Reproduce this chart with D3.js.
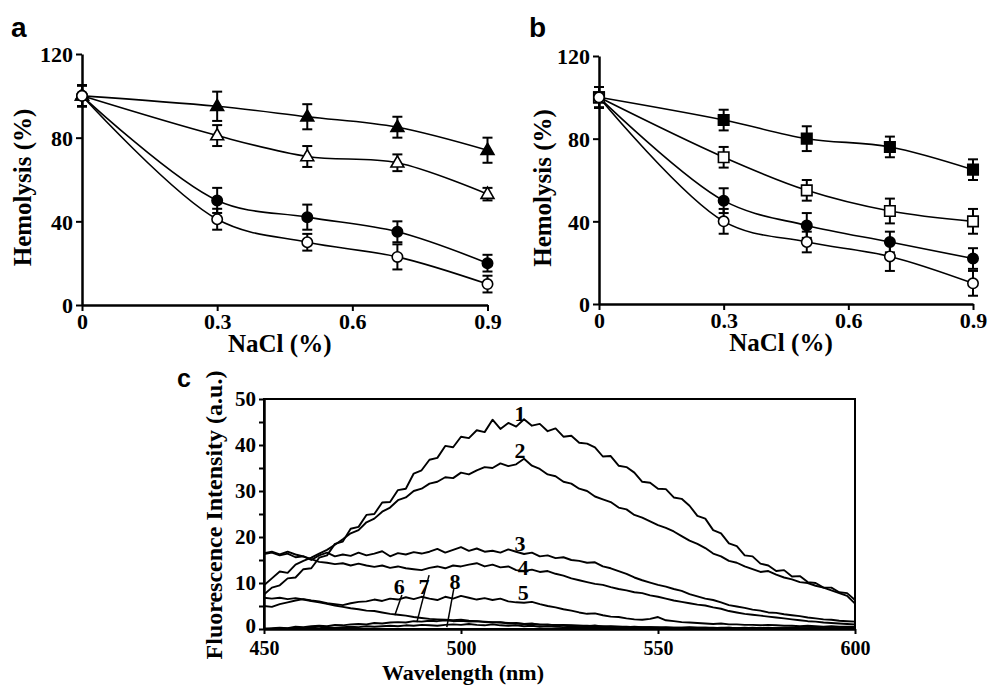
<!DOCTYPE html>
<html><head><meta charset="utf-8">
<script src="https://cdn.jsdelivr.net/npm/d3@7"></script>
<style>body{margin:0;background:#fff}svg{display:block}</style>
</head><body>
<script>
// ---------- Data: panels a & b ----------
const nacl = [0, 0.3, 0.5, 0.7, 0.9];
const xTicksAB = [0, 0.3, 0.6, 0.9];
const yTicksAB = [0, 40, 80, 120];

const aFilledTri = [100, 95, 90, 85, 74];
const aFilledTriErr = [5, 7, 6, 5, 6];
const aOpenTri = [100, 81, 71, 68, 53];
const aOpenTriErr = [5, 5, 5, 4, 3];
const aFilledCirc = [100, 50, 42, 35, 20];
const aFilledCircErr = [5, 6, 6, 5, 4];
const aOpenCirc = [100, 41, 30, 23, 10];
const aOpenCircErr = [5, 5, 4, 6, 4];

const bFilledSq = [100, 89, 80, 76, 65];
const bFilledSqErr = [5, 5, 6, 5, 5];
const bOpenSq = [100, 71, 55, 45, 40];
const bOpenSqErr = [5, 5, 5, 6, 6];
const bFilledCirc = [100, 50, 38, 30, 22];
const bFilledCircErr = [5, 6, 6, 5, 5];
const bOpenCirc = [100, 40, 30, 23, 10];
const bOpenCircErr = [5, 6, 5, 7, 6];

// ---------- Data: panel c ----------
const wavelengths = [450,452,454,456,458,460,462,464,466,468,470,472,474,476,478,480,482,484,486,488,490,492,494,496,498,500,502,504,506,508,510,512,514,516,518,520,522,524,526,528,530,532,534,536,538,540,542,544,546,548,550,552,554,556,558,560,562,564,566,568,570,572,574,576,578,580,582,584,586,588,590,592,594,596,598,600];
const xTicksC = [450, 500, 550, 600];
const yTicksC = [0, 5, 10, 15, 20, 25, 30, 35, 40, 45, 50];

const spec1 = [7.5,9,9.5,11,11.2,13,13.2,15.5,16,18.5,19,21.8,22.2,24.8,25,27.5,27.6,30.2,30.5,33.8,34.5,36.8,37.2,39.8,39.5,41.8,41.5,43.2,42.8,45.5,43.5,44.8,44,45.6,44.2,44.6,43,43.6,41.8,42,40.5,40.3,39.5,37.5,37.6,35.5,35.2,34,32,31.8,30.5,30.4,28.6,28.3,26.8,24.6,24,21.5,20.8,18.6,18,16,15.8,14.2,13.8,12.6,12.8,11.4,11.5,10.2,10,9,9,8,7.8,6.3];
const spec2 = [9.5,11,12.5,12.2,14,14.8,15.5,16.4,17.2,18.3,19.5,20.8,21.5,23.2,24,25.5,26.4,28,28.6,30,30.5,31.6,32,33,32.8,34,33.6,34.5,35.2,35,36,35.4,35.8,37,35.5,34.8,33.6,33.2,32,31.6,30.5,30,28.8,28.2,27.6,26.4,26,24.8,24.2,23.4,22.6,22,21.2,20.2,19.2,18.5,17.6,16.4,15.8,14.8,14.4,13.6,13,12.4,12.6,11.8,11.2,10.8,10.2,10,9.4,9,8.4,7.8,7.2,5.5];
const spec3 = [16.5,16.8,16.2,16.8,16.2,15.8,15,16,16.6,15.8,16.2,15.9,16.6,16,16.4,16.9,15.8,16.5,16.2,16.7,16.4,16.8,17.4,16.6,17.2,17.8,17,17.5,16.8,17,16.6,17.3,16.8,16.3,16.6,15.8,16,15.4,15.6,15,14.8,14.4,14.5,13.6,13.2,12.6,12,11.2,10.6,10.1,9.6,9.2,8.7,8.3,7.6,7.1,6.6,6.3,5.8,5.2,4.9,4.6,4.2,4,3.6,3.5,3.2,3,2.8,2.5,2.3,2.1,2,1.8,1.7,1.6];
const spec4 = [16.3,16.6,16,16.4,15.6,15.8,15.2,14.6,14.4,14.1,14.3,13.8,14.2,13.8,13.5,13.8,13.3,13.6,13.2,13,12.8,13.3,13.6,13.2,13.8,13.6,14,14.3,13.6,14,13.4,13.6,12.8,12.6,12.9,12.4,12.6,12,11.6,11,10.6,10.2,9.8,9.6,9.1,8.7,8.4,8,7.8,7.3,7,6.6,6.2,5.9,5.6,5.3,5.1,4.7,4.4,3.9,3.6,3.3,3.1,2.9,2.7,2.5,2.3,2.1,1.9,1.7,1.6,1.4,1.3,1.2,1.1,1];
const spec5 = [5,4.8,5.4,5.8,6.2,6.5,6.2,6,5.6,5.4,5.2,5.6,5.9,6,6.4,6.1,6.6,6.4,6.9,6.5,7,6.6,6.3,7,6.6,7.2,6.8,6.4,6.7,6.3,6.6,6,5.8,5.7,5.9,5.4,5,4.7,4.3,4,3.6,3.3,3.4,3,2.7,2.6,2.3,2.1,2,2.2,2.6,1.9,1.7,1.5,1.4,1.3,1.2,1.1,1.2,1,1,0.9,0.9,0.8,0.9,0.8,0.7,0.7,0.6,0.7,0.6,0.5,0.6,0.5,0.5,0.5];
const spec6 = [6.8,6.6,6.8,6.5,6.7,6.4,6.1,5.8,5.5,5.1,4.8,4.5,4.3,4,3.9,3.6,3.3,3.1,2.9,2.6,2.4,2.2,2.1,2,1.9,2,1.8,1.7,1.6,1.5,1.4,1.3,1.2,1.1,1.1,1,0.9,0.9,0.8,0.8,0.7,0.7,0.6,0.6,0.5,0.5,0.5,0.4,0.4,0.4,0.4,0.3,0.3,0.3,0.3,0.3,0.3,0.3,0.2,0.3,0.2,0.2,0.3,0.2,0.2,0.2,0.2,0.3,0.2,0.2,0.2,0.2,0.2,0.2,0.2,0.2];
const spec7 = [0,0.2,0.3,0.2,0.5,0.4,0.6,0.7,0.6,0.9,0.8,1,1.1,1,1.3,1.2,1.4,1.5,1.4,1.7,1.6,1.8,1.7,1.9,1.7,1.8,1.6,1.7,1.5,1.4,1.5,1.2,1.3,1.1,1.2,0.9,1,0.8,0.9,0.7,0.7,0.6,0.8,0.5,0.6,0.5,0.4,0.5,0.4,0.4,0.3,0.4,0.3,0.3,0.4,0.3,0.3,0.2,0.3,0.3,0.2,0.3,0.2,0.2,0.3,0.2,0.2,0.3,0.2,0.2,0.3,0.2,0.2,0.2,0.3,0.2];
const spec8 = [0.1,0,0.2,0.1,0.3,0.2,0.3,0.2,0.4,0.3,0.4,0.5,0.4,0.6,0.5,0.6,0.7,0.6,0.8,0.7,0.9,0.8,0.7,0.9,1,0.9,1.1,0.9,0.8,1,0.8,0.7,0.8,0.6,0.7,0.5,0.6,0.5,0.4,0.5,0.4,0.3,0.4,0.3,0.3,0.2,0.3,0.2,0.2,0.3,0.2,0.2,0.1,0.2,0.1,0.2,0.1,0.1,0.2,0.1,0.1,0.1,0.2,0.1,0.1,0.1,0.1,0.2,0.1,0.1,0.1,0.1,0.1,0.1,0.1,0.1];

// curve labels: [text, wavelength, intensity]
const curveLabels = [["1",515,47],["2",515,38.9],["3",515,18.7],["4",515.8,13.5],["5",515.8,8],["6",484.3,9.3],["7",490.6,9.3],["8",498.5,10.4]];
// leader lines: [from nm, from value, to nm, to value]
const leaders = [[485,7.4,483.2,3],[491.9,11.7,488.8,1.5],[498.2,8.9,496.4,0.4]];

// ---------- Drawing ----------
const W = 989, H = 685;
const svg = d3.select("body").append("svg").attr("width", W).attr("height", H);
const SERIF = "'Liberation Serif','Times New Roman',serif";
const SANS = "'Liberation Sans',Arial,sans-serif";

function styleAxis(g, fs) {
  g.attr("font-family", null).attr("font-size", null);
  g.select(".domain").attr("stroke", "#000").attr("stroke-width", 2.5);
  g.selectAll(".tick line").attr("stroke", "#000").attr("stroke-width", 2);
  g.selectAll(".tick text").attr("fill", "#000")
    .style("font-family", SERIF).style("font-weight", "bold").style("font-size", fs + "px");
}

function hemoPanel(cfg) {
  const x = d3.scaleLinear().domain([0, 0.9]).range(cfg.xr);
  const y = d3.scaleLinear().domain([0, 120]).range(cfg.yr);
  const g = svg.append("g");
  const fmt = d => d === 0 ? "0" : d3.format(".1f")(d);
  const ax = g.append("g").attr("transform", `translate(0,${cfg.yr[0]})`)
    .call(d3.axisBottom(x).tickValues(xTicksAB).tickFormat(fmt).tickSize(6).tickSizeOuter(0).tickPadding(2));
  styleAxis(ax, 22);
  const ay = g.append("g").attr("transform", `translate(${cfg.xr[0]},0)`)
    .call(d3.axisLeft(y).tickValues(yTicksAB).tickSize(6).tickSizeOuter(0).tickPadding(3));
  styleAxis(ay, 22);
  ay.selectAll(".tick text").attr("dy", "0.35em");

  const line = d3.line().x((d, i) => x(nacl[i])).y(d => y(d)).curve(d3.curveCatmullRom.alpha(0.5));
  cfg.series.forEach(s => {
    g.append("path").attr("d", line(s.v)).attr("fill", "none").attr("stroke", "#000").attr("stroke-width", 1.6);
  });
  cfg.series.forEach(s => {
    s.v.forEach((v, i) => {
      const cx = x(nacl[i]), e = s.e[i];
      g.append("line").attr("x1", cx).attr("x2", cx).attr("y1", y(v - e)).attr("y2", y(v + e)).attr("stroke", "#000").attr("stroke-width", 2);
      [v - e, v + e].forEach(t => g.append("line").attr("x1", cx - 5).attr("x2", cx + 5).attr("y1", y(t)).attr("y2", y(t)).attr("stroke", "#000").attr("stroke-width", 2));
    });
  });
  cfg.series.forEach(s => {
    const sym = d3.symbol().type(s.shape).size(s.size);
    s.v.forEach((v, i) => {
      g.append("path").attr("d", sym()).attr("transform", `translate(${x(nacl[i])},${y(v) + (s.shape === d3.symbolTriangle ? 0.5 : 0)})`)
        .attr("fill", s.filled ? "#000" : "#fff").attr("stroke", "#000").attr("stroke-width", 1.6);
    });
  });
  g.append("text").attr("x", (cfg.xr[0] + cfg.xr[1]) / 2 - 5).attr("y", cfg.yr[0] + 47)
    .attr("text-anchor", "middle").style("font-family", SERIF).style("font-weight", "bold").style("font-size", "25px").text("NaCl (%)");
  g.append("text").attr("transform", `translate(${cfg.ylabX},${(cfg.yr[0] + cfg.yr[1]) / 2 + 8}) rotate(-90)`)
    .attr("text-anchor", "middle").style("font-family", SERIF).style("font-weight", "bold").style("font-size", "25px").text("Hemolysis (%)");
  g.append("text").attr("x", cfg.letter[0]).attr("y", cfg.letter[1]).style("font-family", SANS).style("font-weight", "bold").style("font-size", "28px").text(cfg.letterText);
}

hemoPanel({
  xr: [82, 487.5], yr: [305, 54], ylabX: 31, letter: [11, 37], letterText: "a",
  series: [
    {v: aFilledTri, e: aFilledTriErr, shape: d3.symbolTriangle, size: 72, filled: true},
    {v: aOpenTri, e: aOpenTriErr, shape: d3.symbolTriangle, size: 72, filled: false},
    {v: aFilledCirc, e: aFilledCircErr, shape: d3.symbolCircle, size: 85, filled: true},
    {v: aOpenCirc, e: aOpenCircErr, shape: d3.symbolCircle, size: 85, filled: false}
  ]
});
hemoPanel({
  xr: [599, 973], yr: [304, 56], ylabX: 551, letter: [529, 37], letterText: "b",
  series: [
    {v: bFilledSq, e: bFilledSqErr, shape: d3.symbolSquare, size: 110, filled: true},
    {v: bOpenSq, e: bOpenSqErr, shape: d3.symbolSquare, size: 110, filled: false},
    {v: bFilledCirc, e: bFilledCircErr, shape: d3.symbolCircle, size: 85, filled: true},
    {v: bOpenCirc, e: bOpenCircErr, shape: d3.symbolCircle, size: 85, filled: false}
  ]
});

// Panel c
(function () {
  const x = d3.scaleLinear().domain([450, 600]).range([264, 855]);
  const y = d3.scaleLinear().domain([0, 50]).range([629, 399]);
  const g = svg.append("g");
  const line = d3.line().x((d, i) => x(wavelengths[i])).y(d => y(d));
  [spec8, spec7, spec6, spec5, spec4, spec3, spec2, spec1].forEach(s => {
    g.append("path").attr("d", line(s)).attr("fill", "none").attr("stroke", "#000").attr("stroke-width", 1.9).attr("stroke-linejoin", "round");
  });
  g.append("rect").attr("x", x(450)).attr("y", y(50)).attr("width", x(600) - x(450)).attr("height", y(0) - y(50))
    .attr("fill", "none").attr("stroke", "#000").attr("stroke-width", 2);
  const ay = g.append("g").attr("transform", `translate(${x(450)},0)`)
    .call(d3.axisLeft(y).tickValues(yTicksC).tickFormat(d => d % 10 === 0 ? d : "").tickSize(5).tickSizeOuter(0).tickPadding(3));
  styleAxis(ay, 21);
  ay.selectAll(".tick text").attr("dy", d => d === 0 ? "0.15em" : "0.32em");
  const ax = g.append("g").attr("transform", `translate(0,${y(0)})`)
    .call(d3.axisBottom(x).tickValues(xTicksC).tickSize(5).tickSizeOuter(0).tickPadding(7));
  styleAxis(ax, 20);
  curveLabels.forEach(l => {
    g.append("text").attr("x", x(l[1])).attr("y", y(l[2])).attr("dy", "0.35em").attr("text-anchor", "middle")
      .style("font-family", SERIF).style("font-weight", "bold").style("font-size", "22px").text(l[0]);
  });
  leaders.forEach(l => {
    g.append("line").attr("x1", x(l[0])).attr("y1", y(l[1])).attr("x2", x(l[2])).attr("y2", y(l[3])).attr("stroke", "#000").attr("stroke-width", 1.5);
  });
  g.append("text").attr("x", 463).attr("y", 680).attr("text-anchor", "middle").style("font-family", SERIF)
    .style("font-weight", "bold").style("font-size", "22px").text("Wavelength (nm)");
  g.append("text").attr("transform", `translate(222,515) rotate(-90)`).attr("text-anchor", "middle").style("font-family", SERIF)
    .style("font-weight", "bold").style("font-size", "24px").text("Fluorescence Intensity (a.u.)");
  g.append("text").attr("x", 177).attr("y", 387).style("font-family", SANS).style("font-weight", "bold").style("font-size", "25px").text("c");
})();
</script>
</body></html>
